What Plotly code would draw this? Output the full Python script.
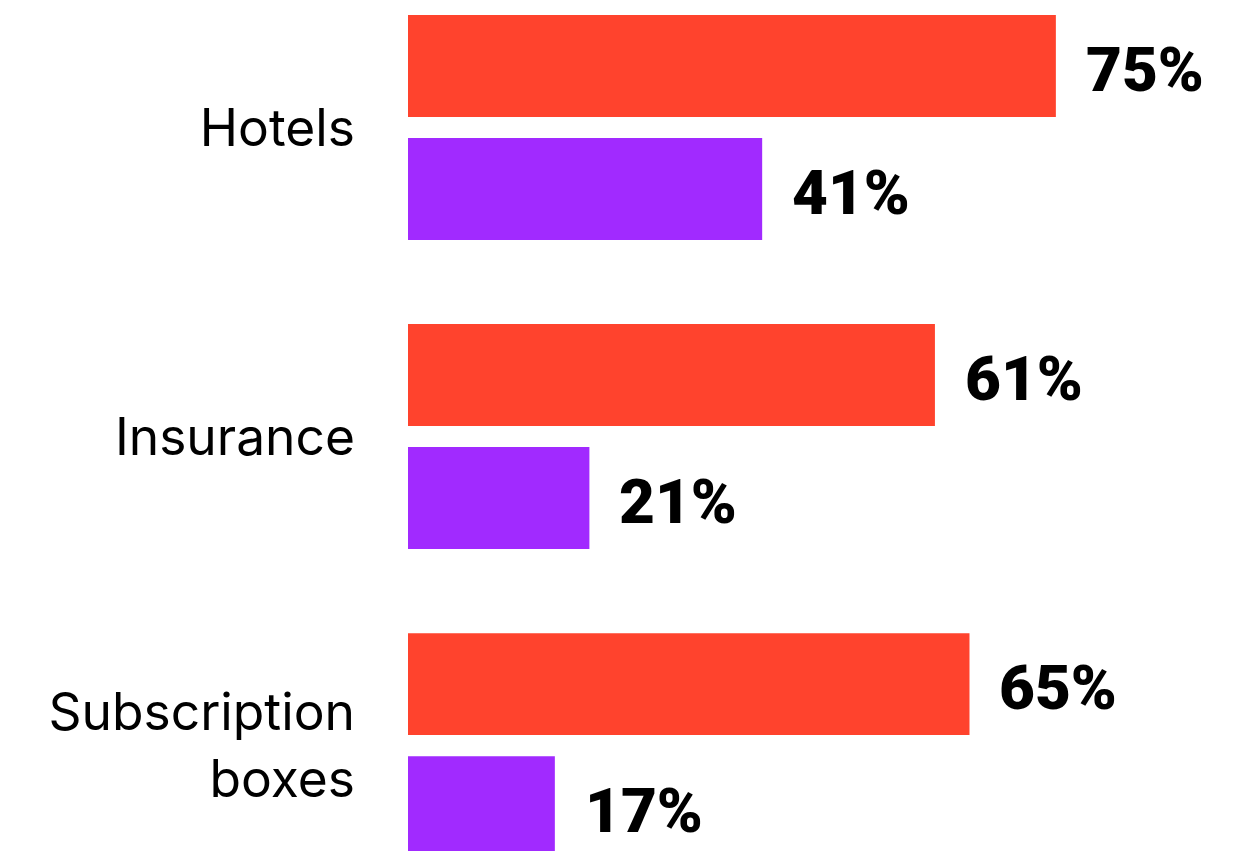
import plotly.graph_objects as go

categories = ["Hotels", "Insurance", "Subscription<br>boxes"]
series_a = [75, 61, 65]
series_b = [41, 21, 17]

RED = "#FF432D"
PURPLE = "#A12AFF"

fig = go.Figure()
fig.add_trace(go.Bar(y=categories, x=series_a, orientation="h",
                     marker=dict(color=RED, line=dict(width=0)),
                     showlegend=False, hoverinfo="skip"))
fig.add_trace(go.Bar(y=categories, x=series_b, orientation="h",
                     marker=dict(color=PURPLE, line=dict(width=0)),
                     showlegend=False, hoverinfo="skip"))

# value labels placed just past each bar end
annotations = []
for i, cat in enumerate(categories):
    for vals, off in ((series_a, -0.199), (series_b, 0.199)):
        annotations.append(dict(
            x=vals[i], y=i + off, xref="x", yref="y",
            text=f"{vals[i]}%", showarrow=False,
            xanchor="left", yanchor="middle", xshift=28, yshift=-3,
            font=dict(family="Roboto", size=62, color="#000000", weight=900),
        ))

fig.update_layout(
    width=1239, height=851,
    margin=dict(l=408, r=0, t=0, b=0),
    paper_bgcolor="white", plot_bgcolor="white",
    barmode="group", bargap=0.204, bargroupgap=0.171,
    annotations=annotations,
    xaxis=dict(range=[0, 96.2], visible=False, fixedrange=True),
    yaxis=dict(
        range=[2.341, -0.4126], showgrid=False, zeroline=False,
        showline=False, ticks="", ticklabelstandoff=52,
        tickfont=dict(family="Inter", size=51.5, color="#000000"),
        fixedrange=True,
    ),
    font=dict(family="Inter"),
)

fig.write_html("out.html", config=dict(displayModeBar=False))
